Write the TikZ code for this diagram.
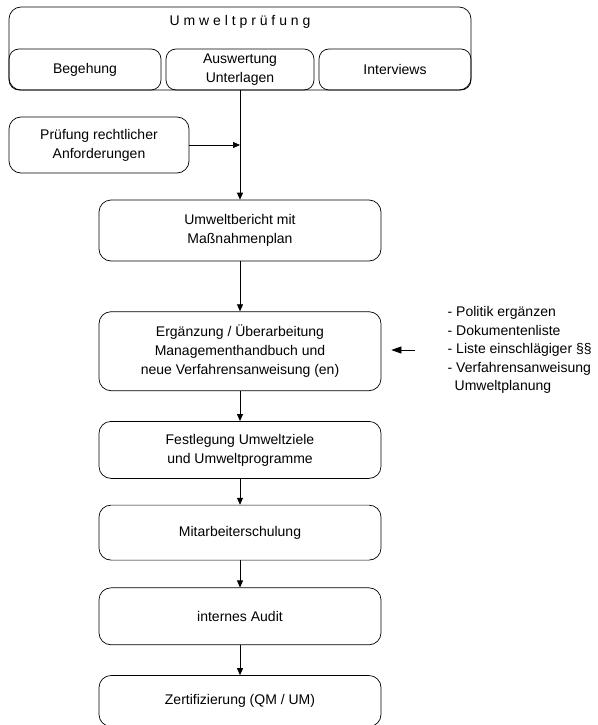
\documentclass[tikz,border=0pt]{standalone}
\usepackage{fontspec}
\setmainfont{Liberation Sans}
\usetikzlibrary{positioning,arrows.meta}

\begin{document}
\begin{tikzpicture}[x=1pt, y=-1pt, line width=0.7pt,
  font=\fontsize{14}{19}\selectfont,
  box/.style={rectangle, draw, rounded corners=12pt, align=center, minimum width=282pt, inner sep=0pt},
  teil/.style={rectangle, draw, rounded corners=10pt, align=center, minimum height=41pt, inner sep=0pt},
  pfeil/.style={-{Triangle[length=7pt, width=6pt]}}]
\useasboundingbox (0,0) rectangle (597,725);
\node[rectangle, draw, rounded corners=12pt, minimum width=462pt, minimum height=83pt, inner sep=0pt] (umwelt) at (240,48.5) {};
\node (titel) at (240,22) {U m w e l t p r ü f u n g};
\node[teil, minimum width=152pt] (begehung) at (85,69.5) {Begehung};
\node[teil, minimum width=148pt] (auswertung) at (240,69.5) {Auswertung\\Unterlagen};
\node[teil, minimum width=152pt] (interviews) at (395,69.5) {Interviews};
\node[rectangle, draw, rounded corners=12pt, minimum width=180pt, minimum height=56pt, align=center, inner sep=0pt] (recht) at (99,145) {Prüfung rechtlicher\\Anforderungen};
\node[box, minimum height=61pt] (bericht) at (240,230.5) {Umweltbericht mit\\Maßnahmenplan};
\node[box, minimum height=79pt, below=50pt of bericht] (ergaenzung) {Ergänzung / Überarbeitung\\Managementhandbuch und\\neue Verfahrensanweisung (en)};
\node[box, minimum height=57pt, below=30pt of ergaenzung] (ziele) {Festlegung Umweltziele\\und Umweltprogramme};
\node[box, minimum height=55pt, below=26pt of ziele] (schulung) {Mitarbeiterschulung};
\node[box, minimum height=57pt, below=27pt of schulung] (audit) {internes Audit};
\node[box, minimum height=51pt, below=30pt of audit] (zert) {Zertifizierung (QM / UM)};
\node[align=left, anchor=west, font=\fontsize{14}{18.5}\selectfont] (liste) at (444,350) {- Politik ergänzen\\- Dokumentenliste\\- Liste einschlägiger §§\\- Verfahrensanweisung\\\hspace{7pt}Umweltplanung};
\coordinate[left=29pt of liste.west] (hinweis);
\coordinate[right=10pt of ergaenzung.east] (ziel);
\draw[pfeil] (auswertung.south) -- (bericht.north);
\draw[pfeil] (recht.east) -- (recht.east -| auswertung.south);
\draw[pfeil] (bericht) -- (ergaenzung);
\draw[pfeil] (ergaenzung) -- (ziele);
\draw[pfeil] (ziele) -- (schulung);
\draw[pfeil] (schulung) -- (audit);
\draw[pfeil] (audit) -- (zert);
\draw[-{Triangle[length=10pt, width=7pt]}] (hinweis) -- (hinweis -| ziel);
\end{tikzpicture}
\end{document}
